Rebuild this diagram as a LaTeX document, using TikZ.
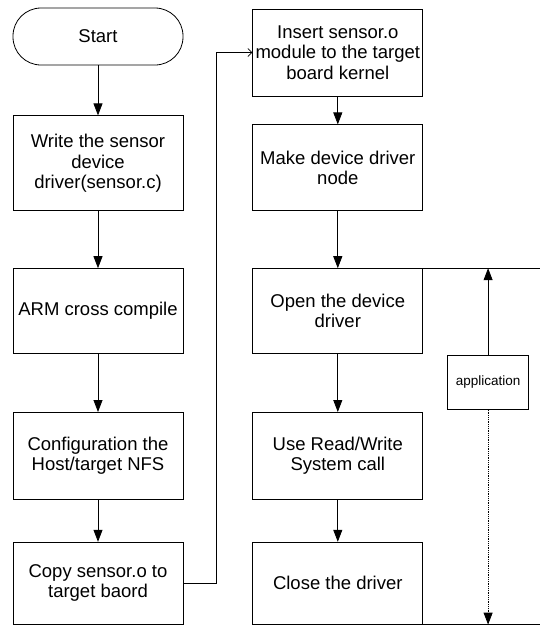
\documentclass[tikz,border=0pt]{standalone}
\usepackage{fontspec}
\setmainfont{Liberation Sans}
\usetikzlibrary{arrows.meta, positioning}
\tikzstyle{line} = [draw, -{Triangle[length=12pt,width=9pt]}, line width=0.8pt]
\tikzstyle{feed} = [draw, -{Straight Barb[length=4pt,width=8pt]}, line width=0.7pt]
\tikzstyle{rule} = [draw, line width=0.8pt]
\tikzstyle{block} = [rectangle, draw, line width=0.8pt, minimum width=170pt,
  align=center, inner sep=1.5pt, font=\fontsize{18.5}{20.5}\selectfont]
\tikzstyle{terminal} = [block, rounded corners=28pt, minimum height=57pt]
\tikzstyle{note} = [rectangle, draw, line width=0.8pt, minimum width=81pt,
  minimum height=54pt, font=\fontsize{13.5}{15}\selectfont]

\begin{document}
\begin{tikzpicture}
    \useasboundingbox (0pt,0pt) rectangle (543pt,-625pt);

    % build steps
    \node [terminal] (start) at (98pt,-36.5pt) {Start};
    \node [block, minimum height=95pt, below=50pt of start] (write) {Write the sensor\\device\\driver(sensor.c)};
    \node [block, minimum height=85pt, below=57pt of write] (arm) {ARM cross compile};
    \node [block, minimum height=87pt, below=58pt of arm] (config) {Configuration the\\Host/target NFS};
    \node [block, minimum height=82pt, below=42pt of config] (copy) {Copy sensor.o to\\target baord};

    % target steps
    \node [block, minimum height=85pt, right=69pt of arm] (open) {Open the device\\driver};
    \node [block, minimum height=87pt, right=69pt of config] (use) {Use Read/Write\\System call};
    \node [block, minimum height=82pt, right=69pt of copy] (close) {Close the driver};
    \node [block, minimum height=86pt, above=57pt of open] (make) {Make device driver\\node};
    \node [block, minimum height=87pt, above=28pt of make] (insert) {Insert sensor.o\\module to the target\\board kernel};

    % application span
    \coordinate [right=117pt of open.north east] (toptick);
    \coordinate [right=117pt of close.south east] (bottick);
    \node [note, below right=1pt and 24pt of open.south east] (app) {application};

    \path [rule] (open.north east) -- (toptick);
    \path [rule] (close.south east) -- (bottick);
    \path [line] (app.north) -- (app.north |- toptick);
    \path [line, densely dotted] (app.south) -- (app.south |- bottick);

    \path [line] (start) -- (write);
    \path [line] (write) -- (arm);
    \path [line] (arm) -- (config);
    \path [line] (config) -- (copy);
    \path [feed] (copy.east) -- ++(33pt,0) |- (insert.west);
    \path [line] (insert) -- (make);
    \path [line] (make) -- (open);
    \path [line] (open) -- (use);
    \path [line] (use) -- (close);

  \end{tikzpicture}
\end{document}
